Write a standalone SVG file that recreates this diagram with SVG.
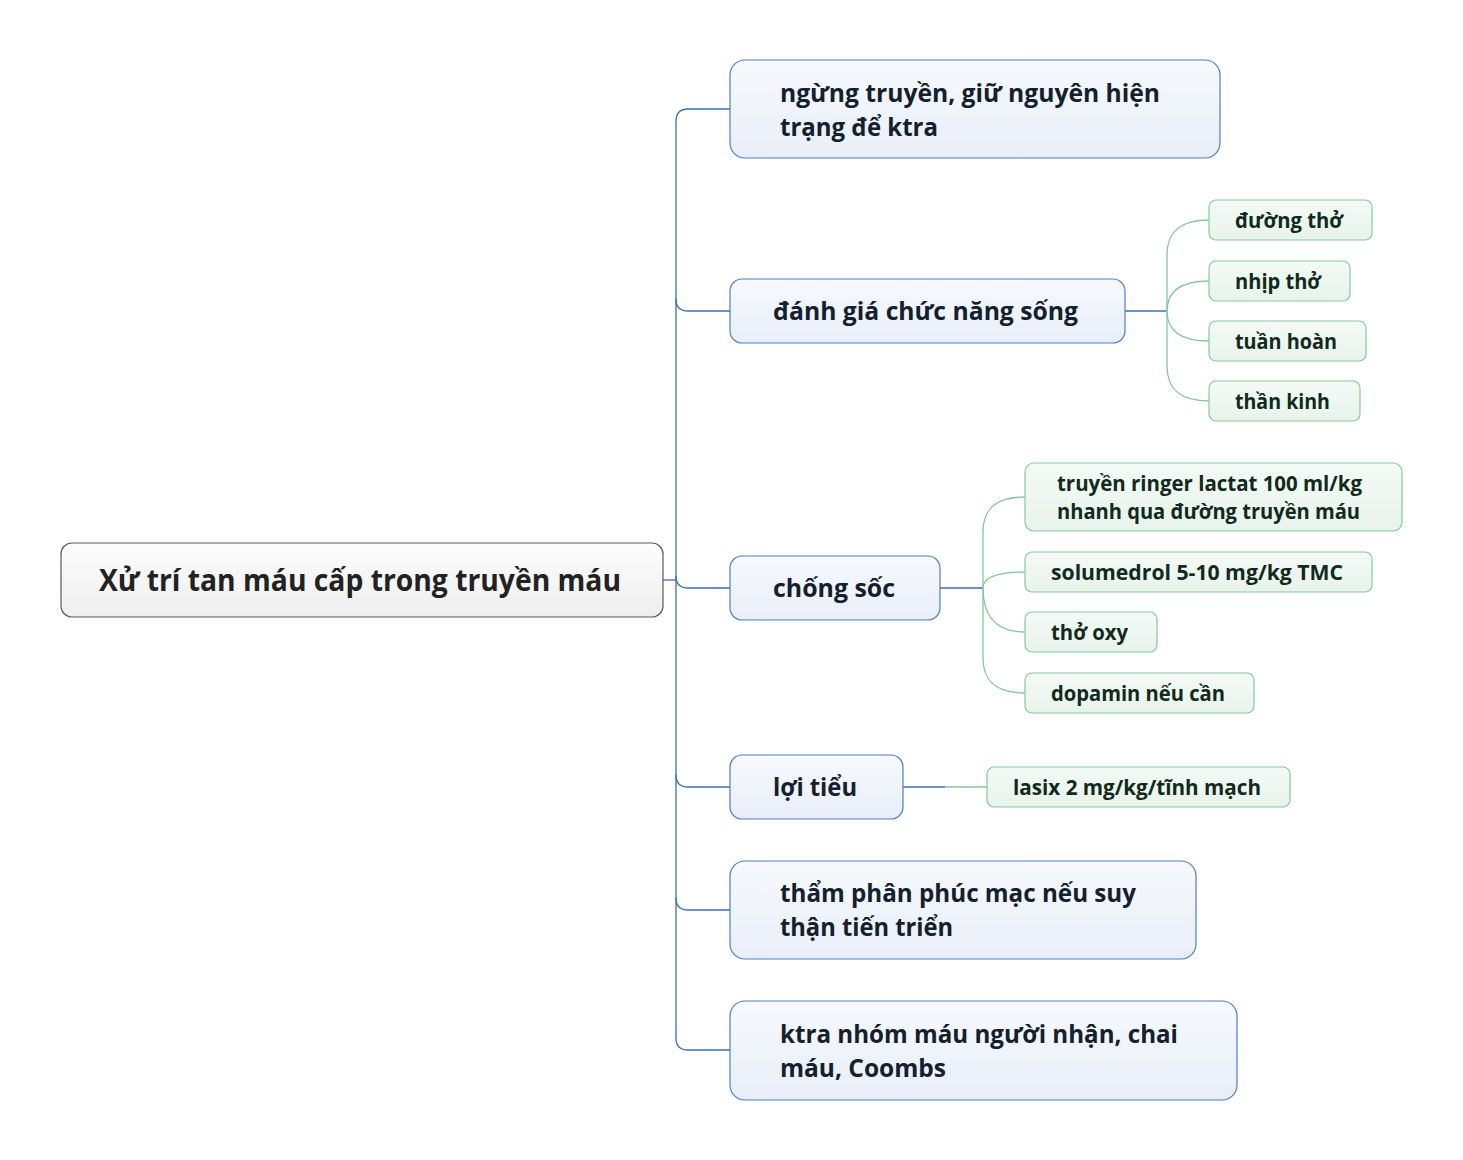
<svg xmlns="http://www.w3.org/2000/svg" width="1463" height="1160" viewBox="0 0 1463 1160">
<defs>
<linearGradient id="gRoot" x1="0" y1="0" x2="0" y2="1"><stop offset="0" stop-color="#fdfdfd"/><stop offset="1" stop-color="#eeeeee"/></linearGradient>
<linearGradient id="gBlue" x1="0" y1="0" x2="0" y2="1"><stop offset="0" stop-color="#f7f9fd"/><stop offset="1" stop-color="#e8eef8"/></linearGradient>
<linearGradient id="gGreen" x1="0" y1="0" x2="0" y2="1"><stop offset="0" stop-color="#f4faf6"/><stop offset="1" stop-color="#e7f3eb"/></linearGradient>
</defs>
<style>
text{font-family:"Open Sans","Noto Sans","DejaVu Sans",sans-serif;font-weight:bold;}
.root rect{fill:url(#gRoot);stroke:#5a5a5a;stroke-width:1.2;}
.root text{font-size:30px;fill:#222222;}
.blue rect{fill:url(#gBlue);stroke:#4f7fc2;stroke-width:1.2;}
.blue text{font-size:25px;fill:#13202e;}
.green rect{fill:url(#gGreen);stroke:#86c89c;stroke-width:1.2;}
.green text{font-size:21px;fill:#102a1c;}
.cb{fill:none;stroke:#3b6fb6;stroke-width:1.3;}
.cg{fill:none;stroke:#86c89c;stroke-width:1.3;}
</style>
<rect width="1463" height="1160" fill="#ffffff"/>
<g id="connectors">
<path class="cb" d="M663,580 H676"/>
<path class="cb" d="M730,109 H688 Q676,109 676,121 V1038 Q676,1050 688,1050 H730"/>
<path class="cb" d="M676,299 Q676,311 688,311 H730"/>
<path class="cb" d="M676,576 Q676,588 688,588 H730"/>
<path class="cb" d="M676,775 Q676,787 688,787 H730"/>
<path class="cb" d="M676,898 Q676,910 688,910 H730"/>
<path class="cb" d="M1125,311 H1167"/>
<path class="cg" d="M1209,220 C1182,220 1167,230 1167,255 V366 C1167,391 1182,401 1209,401"/>
<path class="cg" d="M1167,311 C1167,292 1180,281 1209,281"/>
<path class="cg" d="M1167,311 C1167,330 1180,341 1209,341"/>
<path class="cb" d="M940,588 H983"/>
<path class="cg" d="M1025,497 C998,497 983,507 983,532 V658 C983,683 998,693 1025,693"/>
<path class="cg" d="M983,588 C983,578 996,572 1025,572"/>
<path class="cg" d="M983,588 C983,617 996,632 1025,632"/>
<path class="cb" d="M903,787 H945"/>
<path class="cg" d="M945,787 H987"/>
</g>
<g id="root" class="root">
<rect x="61" y="543" width="602" height="74" rx="11"/>
<text x="99" y="591" textLength="522" lengthAdjust="spacingAndGlyphs">Xử trí tan máu cấp trong truyền máu</text>
</g>
<g id="n1" class="blue">
<rect x="730" y="60" width="490" height="98" rx="15"/>
<text x="780" y="102" textLength="380" lengthAdjust="spacingAndGlyphs">ngừng truyền, giữ nguyên hiện</text>
<text x="780" y="136" textLength="158" lengthAdjust="spacingAndGlyphs">trạng để ktra</text>
</g>
<g id="n2" class="blue">
<rect x="730" y="279" width="395" height="64" rx="12"/>
<text x="773" y="320" textLength="305" lengthAdjust="spacingAndGlyphs">đánh giá chức năng sống</text>
</g>
<g id="n3" class="blue">
<rect x="730" y="556" width="210" height="64" rx="12"/>
<text x="773" y="597" textLength="122" lengthAdjust="spacingAndGlyphs">chống sốc</text>
</g>
<g id="n4" class="blue">
<rect x="730" y="755" width="173" height="64" rx="12"/>
<text x="773" y="796" textLength="84" lengthAdjust="spacingAndGlyphs">lợi tiểu</text>
</g>
<g id="n5" class="blue">
<rect x="730" y="861" width="466" height="98" rx="15"/>
<text x="780" y="902" textLength="356" lengthAdjust="spacingAndGlyphs">thẩm phân phúc mạc nếu suy</text>
<text x="780" y="936" textLength="173" lengthAdjust="spacingAndGlyphs">thận tiến triển</text>
</g>
<g id="n6" class="blue">
<rect x="730" y="1001" width="507" height="99" rx="15"/>
<text x="780" y="1043" textLength="398" lengthAdjust="spacingAndGlyphs">ktra nhóm máu người nhận, chai</text>
<text x="780" y="1077" textLength="166" lengthAdjust="spacingAndGlyphs">máu, Coombs</text>
</g>
<g id="g1" class="green">
<rect x="1209" y="200" width="163" height="40" rx="7"/>
<text x="1235" y="228" textLength="108" lengthAdjust="spacingAndGlyphs">đường thở</text>
</g>
<g id="g2" class="green">
<rect x="1209" y="261" width="141" height="40" rx="7"/>
<text x="1235" y="289" textLength="86" lengthAdjust="spacingAndGlyphs">nhịp thở</text>
</g>
<g id="g3" class="green">
<rect x="1209" y="321" width="157" height="40" rx="7"/>
<text x="1235" y="349" textLength="102" lengthAdjust="spacingAndGlyphs">tuần hoàn</text>
</g>
<g id="g4" class="green">
<rect x="1209" y="381" width="151" height="40" rx="7"/>
<text x="1235" y="409" textLength="95" lengthAdjust="spacingAndGlyphs">thần kinh</text>
</g>
<g id="g5" class="green">
<rect x="1025" y="463" width="377" height="68" rx="9"/>
<text x="1057" y="491" textLength="305" lengthAdjust="spacingAndGlyphs">truyền ringer lactat 100 ml/kg</text>
<text x="1057" y="519" textLength="303" lengthAdjust="spacingAndGlyphs">nhanh qua đường truyền máu</text>
</g>
<g id="g6" class="green">
<rect x="1025" y="552" width="347" height="40" rx="7"/>
<text x="1051" y="580" textLength="292" lengthAdjust="spacingAndGlyphs">solumedrol 5-10 mg/kg TMC</text>
</g>
<g id="g7" class="green">
<rect x="1025" y="612" width="132" height="40" rx="7"/>
<text x="1051" y="640" textLength="77" lengthAdjust="spacingAndGlyphs">thở oxy</text>
</g>
<g id="g8" class="green">
<rect x="1025" y="673" width="229" height="40" rx="7"/>
<text x="1051" y="701" textLength="174" lengthAdjust="spacingAndGlyphs">dopamin nếu cần</text>
</g>
<g id="g9" class="green">
<rect x="987" y="767" width="303" height="40" rx="7"/>
<text x="1013" y="795" textLength="248" lengthAdjust="spacingAndGlyphs">lasix 2 mg/kg/tĩnh mạch</text>
</g>
</svg>
